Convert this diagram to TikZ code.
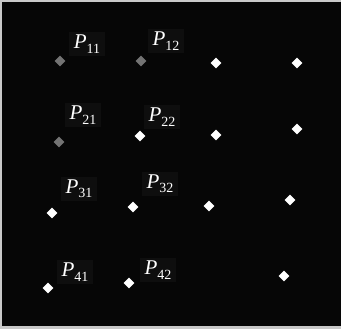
\documentclass[tikz,border=0pt]{standalone}
\usepackage{fontspec}
\setmainfont{Liberation Serif}
\usepackage{tikz}
\usetikzlibrary{shapes.geometric}
\definecolor{bgblack}{RGB}{6, 6, 6}
\definecolor{boxblack}{RGB}{14, 14, 14}
\definecolor{framegray}{RGB}{200, 200, 200}
\definecolor{dimgray}{RGB}{115, 115, 115}
\newcommand{\plab}[1]{\textit{P}\raisebox{-0.45ex}{\fontsize{14}{14}\selectfont #1}}

\begin{document}
\begin{tikzpicture}[
    x=1pt, y=-1pt,
    spot/.style={diamond, fill=white, inner sep=0pt, minimum width=11pt, minimum height=11pt},
    dimspot/.style={spot, fill=dimgray},
    tag/.style={fill=boxblack, text=white, inner xsep=5pt, inner ysep=3pt, font=\fontsize{21}{21}\selectfont}
]

% frame and background
\fill[framegray] (0,0) rectangle (341,329);
\fill[bgblack] (2,2) rectangle (341,326);
\useasboundingbox (0,0) rectangle (341,329);

% row 1
\node[dimspot] (p11) at (60,61) {};
\node[dimspot] (p12) at (141,61) {};
\node[spot] (p13) at (216,63) {};
\node[spot] (p14) at (297,63) {};

% row 2
\node[dimspot] (p21) at (59,142) {};
\node[spot] (p22) at (140,136) {};
\node[spot] (p23) at (216,135) {};
\node[spot] (p24) at (297,129) {};

% row 3
\node[spot] (p31) at (52,213) {};
\node[spot] (p32) at (133,207) {};
\node[spot] (p33) at (209,206) {};
\node[spot] (p34) at (290,200) {};

% row 4
\node[spot] (p41) at (48,288) {};
\node[spot] (p42) at (129,283) {};
\node[spot] (p44) at (284,276) {};

% labels
\node[tag] (l11) at (87,44) {\plab{11}};
\node[tag] (l12) at (166,41) {\plab{12}};
\node[tag] (l21) at (83,115) {\plab{21}};
\node[tag] (l22) at (162,117) {\plab{22}};
\node[tag] (l31) at (79,189) {\plab{31}};
\node[tag] (l32) at (160,184) {\plab{32}};
\node[tag] (l41) at (75,272) {\plab{41}};
\node[tag] (l42) at (158,270) {\plab{42}};

\end{tikzpicture}
\end{document}
